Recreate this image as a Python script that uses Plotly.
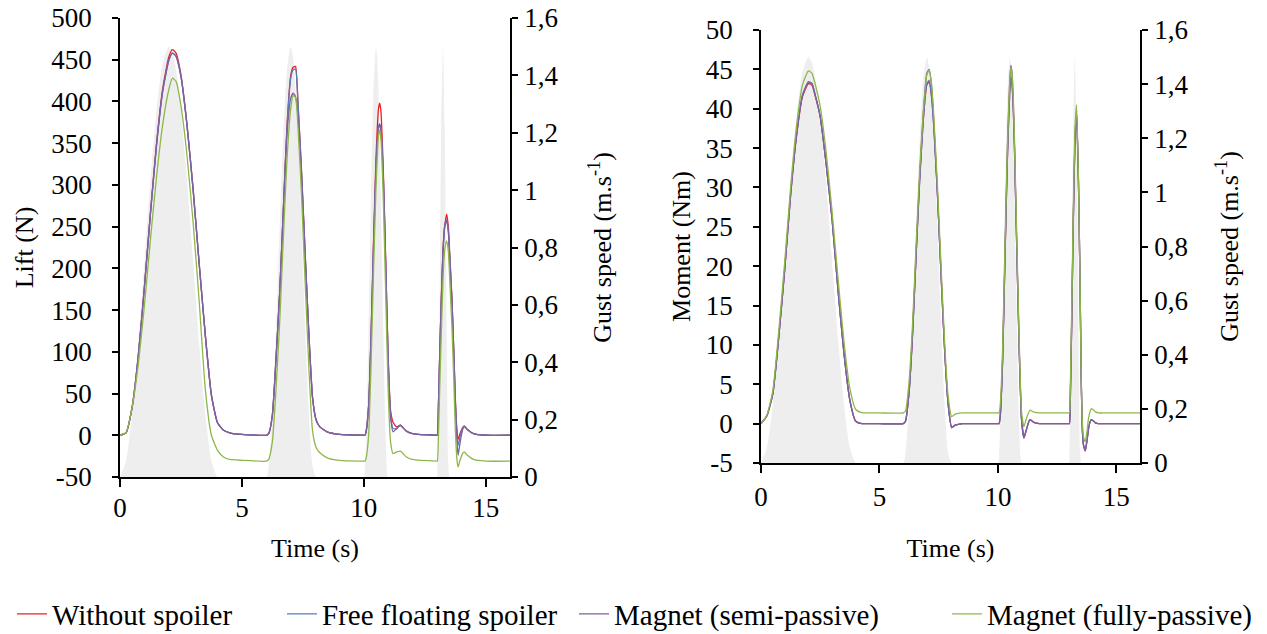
import plotly.graph_objects as go

# ---------------- data ----------------
time = [
    0, 0.25, 0.5, 0.75, 1.0, 1.25, 1.5, 1.75, 2.0, 2.15, 2.3, 2.5, 2.75, 3.0, 3.25, 3.5, 3.75, 4.0, 4.25, 4.5, 5.0, 6.0,
    6.1, 6.25, 6.4, 6.55, 6.7, 6.85, 7.0, 7.1, 7.2, 7.3, 7.45, 7.6, 7.75, 7.9, 8.05, 8.2, 8.5, 9.0, 10.0,
    10.05, 10.1, 10.2, 10.3, 10.4, 10.5, 10.55, 10.6, 10.65, 10.7, 10.8, 10.9, 11.0, 11.1, 11.2, 11.35, 11.5, 11.75, 12.0, 13.0,
    13.02, 13.07, 13.12, 13.18, 13.25, 13.32, 13.4, 13.47, 13.52, 13.57, 13.62, 13.69, 13.76, 13.82, 13.87, 13.95, 14.05, 14.12, 14.25, 14.5, 15.0, 16.0,
]

gust_speed = [
    0, 0.057, 0.22, 0.463, 0.75, 1.037, 1.28, 1.443, 1.5, 1.479, 1.418, 1.28, 1.037, 0.75, 0.463, 0.22, 0.057, 0, 0, 0, 0, 0,
    0.037, 0.22, 0.518, 0.867, 1.191, 1.418, 1.5, 1.463, 1.357, 1.191, 0.867, 0.518, 0.22, 0.037, 0, 0, 0, 0, 0,
    0.037, 0.143, 0.518, 0.982, 1.357, 1.5, 1.463, 1.357, 1.191, 0.982, 0.518, 0.143, 0, 0, 0, 0, 0, 0, 0, 0,
    0.023, 0.272, 0.703, 1.228, 1.5, 1.228, 0.518, 0.053, 0, 0, 0, 0, 0, 0, 0, 0, 0, 0, 0, 0, 0, 0,
]

lift_without = [
    0, 3, 34, 95, 177, 267, 350, 415, 453, 462, 458, 432, 372, 295, 205, 120, 48, 15, 6, 3, 1, 0,
    2, 24, 91, 170, 270, 370, 430, 441, 442, 400, 315, 215, 120, 45, 18, 10, 4, 1, 0,
    0, 5, 35, 120, 230, 330, 365, 390, 398, 390, 320, 210, 95, 30, 16, 10, 12, 5, 2, 0,
    0, 42, 100, 162, 222, 250, 265, 250, 222, 193, 162, 105, 42, 8, -5, 2, 9, 11, 7, 2, 0, 0,
]
lift_free = [
    0, 3, 34, 95, 177, 266, 348, 412, 449, 458, 454, 430, 371, 294, 205, 120, 48, 15, 6, 3, 1, 0,
    2, 24, 91, 170, 270, 368, 427, 438, 439, 398, 314, 215, 120, 45, 18, 10, 4, 1, 0,
    0, 5, 35, 118, 225, 320, 350, 368, 373, 366, 312, 205, 93, 25, 8, 8, 12, 5, 2, 0,
    0, 42, 100, 160, 218, 250, 258, 245, 218, 190, 160, 104, 40, 2, -12, -2, 8, 11, 7, 2, 0, 0,
]
lift_semi = [
    0, 3, 34, 95, 177, 266, 348, 412, 449, 458, 454, 430, 371, 294, 205, 120, 48, 15, 6, 3, 1, 0,
    2, 24, 91, 170, 268, 360, 403, 410, 406, 385, 310, 213, 120, 45, 18, 10, 4, 1, 0,
    0, 5, 35, 118, 225, 320, 350, 368, 373, 366, 312, 205, 92, 22, 4, 8, 12, 5, 2, 0,
    0, 42, 100, 160, 218, 250, 257, 244, 217, 189, 159, 102, 36, -5, -24, -9, 6, 11, 7, 2, 0, 0,
]
lift_fully = [
    0, 3, 34, 85, 155, 235, 310, 372, 414, 428, 424, 395, 335, 255, 160, 55, 0, -18, -26, -29, -30, -31,
    -29, -8, 55, 135, 235, 330, 390, 407, 405, 370, 285, 180, 80, 5, -15, -21, -27, -30, -31,
    -31, -27, 0, 85, 195, 295, 330, 358, 366, 357, 285, 170, 55, -8, -22, -20, -19, -26, -29, -31,
    -31, 5, 60, 120, 185, 222, 233, 220, 192, 160, 128, 70, 5, -28, -38, -30, -22, -20, -24, -29, -31, -31,
]

moment_without = [
    0, 1.0, 3.8, 11.0, 19.5, 29.0, 36.5, 41.5, 43.2, 43.0, 41.5, 39.0, 33.0, 26.0, 17.0, 9.0, 3.0, 0.3, 0, 0, 0, 0,
    0.3, 4.0, 11.5, 21.5, 31.0, 38.5, 43.0, 43.4, 41.5, 37.5, 29.0, 19.0, 9.5, 2.5, -0.5, -0.2, 0, 0, 0,
    0, 1.0, 8.0, 21.0, 33.5, 42.0, 44.0, 43.0, 40.0, 35.0, 22.0, 9.5, 0.5, -1.8, -0.8, 0.5, 0.2, 0, 0, 0,
    0, 5.0, 13.5, 25.0, 35.5, 39.7, 31.0, 17.5, 5.5, -1.0, -2.8, -3.4, -2.2, -0.8, 0, 0.5, 0.3, 0.1, 0, 0, 0, 0,
]
moment_free = [
    0, 1.0, 3.8, 11.0, 19.6, 29.1, 36.7, 41.7, 43.4, 43.2, 41.6, 39.0, 33.0, 26.0, 17.0, 9.0, 3.0, 0.3, 0, 0, 0, 0,
    0.3, 4.0, 11.5, 21.5, 31.0, 38.6, 43.2, 43.6, 41.6, 37.5, 29.0, 19.0, 9.5, 2.5, -0.5, -0.2, 0, 0, 0,
    0, 1.0, 8.0, 21.0, 33.5, 42.2, 44.1, 43.1, 40.0, 35.0, 22.0, 9.5, 0.5, -1.8, -0.8, 0.5, 0.2, 0, 0, 0,
    0, 5.0, 13.5, 25.0, 35.5, 39.7, 31.0, 17.5, 5.5, -1.0, -2.8, -3.3, -2.2, -0.8, 0, 0.5, 0.3, 0.1, 0, 0, 0, 0,
]
moment_semi = [
    0, 1.0, 3.8, 11.0, 19.6, 29.1, 36.7, 41.7, 43.4, 43.2, 41.6, 39.0, 33.0, 26.0, 17.0, 9.0, 3.0, 0.3, 0, 0, 0, 0,
    0.3, 4.0, 11.5, 21.8, 31.5, 39.3, 44.5, 45.0, 43.0, 38.0, 29.2, 19.0, 9.5, 2.5, -0.5, -0.2, 0, 0, 0,
    0, 1.0, 8.2, 21.5, 34.5, 43.5, 45.5, 44.5, 41.0, 35.5, 22.0, 9.5, 0.5, -1.8, -0.8, 0.5, 0.2, 0, 0, 0,
    0, 5.0, 13.5, 25.0, 35.5, 39.7, 31.0, 17.5, 5.5, -1.0, -2.8, -3.5, -2.2, -0.8, 0, 0.5, 0.3, 0.1, 0, 0, 0, 0,
]
moment_fully = [
    0, 1.1, 4.2, 11.8, 20.5, 30.0, 37.8, 43.0, 44.8, 44.5, 43.0, 40.3, 34.5, 27.0, 18.5, 10.5, 4.5, 1.8, 1.4, 1.36, 1.36, 1.36,
    1.6, 5.3, 12.8, 22.8, 32.3, 39.6, 44.3, 44.9, 43.0, 38.8, 30.2, 20.1, 10.5, 3.5, 0.9, 1.2, 1.36, 1.36, 1.36,
    1.36, 2.4, 9.5, 22.5, 35.0, 43.5, 45.3, 44.3, 41.3, 36.2, 23.3, 10.6, 1.5, -0.4, 0.6, 1.7, 1.5, 1.36, 1.36, 1.36,
    1.36, 6.5, 15.0, 26.5, 37.0, 40.5, 31.5, 17.5, 5.5, 0, -1.7, -2.3, -1.0, 0.5, 1.3, 1.9, 1.7, 1.5, 1.36, 1.36, 1.36, 1.36,
]

series_names = ["Without spoiler", "Free floating spoiler", "Magnet (semi-passive)", "Magnet (fully-passive)"]
series_colors = ["#ee1c25", "#4f81bd", "#7f5fa0", "#8cb84a"]
lift_series = [lift_without, lift_free, lift_semi, lift_fully]
moment_series = [moment_without, moment_free, moment_semi, moment_fully]

gust_ticks = [0, 0.2, 0.4, 0.6, 0.8, 1.0, 1.2, 1.4, 1.6]
gust_ticktext = ["0", "0,2", "0,4", "0,6", "0,8", "1", "1,2", "1,4", "1,6"]
lift_ticks = [-50, 0, 50, 100, 150, 200, 250, 300, 350, 400, 450, 500]
lift_ticktext = ["-50", "0", "50", "100", "150", "200", "250", "300", "350", "400", "450", "500"]
moment_ticks = [-5, 0, 5, 10, 15, 20, 25, 30, 35, 40, 45, 50]
moment_ticktext = ["-5", "0", "5", "10", "15", "20", "25", "30", "35", "40", "45", "50"]
time_ticks = [0, 5, 10, 15]
time_ticktext = ["0", "5", "10", "15"]

# ---------------- figure ----------------
W, H = 1267, 634
FONT = "Liberation Serif"
FS_TICK = 27
FS_TITLE = 26
FS_LEG = 29

fig = go.Figure()

GRAY = "#eeeeee"
fig.add_trace(go.Scatter(x=time, y=gust_speed, xaxis="x", yaxis="y", mode="lines",
                         line=dict(width=0, color=GRAY, shape="spline", smoothing=0.6),
                         fill="tozeroy", fillcolor=GRAY, showlegend=False, hoverinfo="skip"))
fig.add_trace(go.Scatter(x=time, y=gust_speed, xaxis="x2", yaxis="y3", mode="lines",
                         line=dict(width=0, color=GRAY, shape="spline", smoothing=0.6),
                         fill="tozeroy", fillcolor=GRAY, showlegend=False, hoverinfo="skip"))

legend_ids = ["legend", "legend2", "legend3", "legend4"]
for i, (name, col) in enumerate(zip(series_names, series_colors)):
    fig.add_trace(go.Scatter(x=time, y=lift_series[i], xaxis="x", yaxis="y2", mode="lines",
                             name=name, line=dict(color=col, width=1.3, shape="spline", smoothing=0.5),
                             legend=legend_ids[i], showlegend=True))
for i, (name, col) in enumerate(zip(series_names, series_colors)):
    fig.add_trace(go.Scatter(x=time, y=moment_series[i], xaxis="x2", yaxis="y4", mode="lines",
                             name=name, line=dict(color=col, width=1.3, shape="spline", smoothing=0.5),
                             showlegend=False))


def px_x(p):
    return p / W


def px_y(p):
    return 1 - p / H


axis_common = dict(showline=True, linecolor="black", linewidth=1.5, ticks="outside",
                   tickcolor="black", tickwidth=1.5, showgrid=False, zeroline=False,
                   automargin=False,
                   tickfont=dict(family=FONT, size=FS_TICK, color="black"))


def title(text):
    return dict(text=text, font=dict(family=FONT, size=FS_TITLE, color="black"))


fig.update_layout(
    template="none",
    width=W, height=H,
    margin=dict(l=0, r=0, t=0, b=0, autoexpand=False),
    plot_bgcolor="white", paper_bgcolor="white",
    font=dict(family=FONT, size=FS_TICK, color="black"),
    xaxis=dict(domain=[px_x(120), px_x(510)], anchor="y", range=[0, 16],
               tickvals=time_ticks, ticktext=time_ticktext, ticklen=8, ticklabelstandoff=-2,
               title=dict(title("Time (s)"), standoff=17), **axis_common),
    yaxis=dict(domain=[px_y(477), px_y(18)], anchor="x", side="right", range=[0, 1.6],
               tickvals=gust_ticks, ticktext=gust_ticktext, ticklen=6, ticklabelstandoff=1,
               title=dict(title("Gust speed (m.s<sup>-1</sup>)"), standoff=35), **axis_common),
    yaxis2=dict(overlaying="y", anchor="x", side="left", range=[-50, 500],
                tickvals=lift_ticks, ticktext=lift_ticktext, ticklen=6, ticklabelstandoff=15,
                title=dict(title("Lift (N)"), standoff=10), **axis_common),
    xaxis2=dict(domain=[px_x(761), px_x(1140)], anchor="y3", range=[0, 16],
                tickvals=time_ticks, ticktext=time_ticktext, ticklen=8, ticklabelstandoff=1,
                title=dict(title("Time (s)"), standoff=28), **axis_common),
    yaxis3=dict(domain=[px_y(463), px_y(30)], anchor="x2", side="right", range=[0, 1.6],
                tickvals=gust_ticks, ticktext=gust_ticktext, ticklen=6, ticklabelstandoff=1,
                title=dict(title("Gust speed (m.s<sup>-1</sup>)"), standoff=32), **axis_common),
    yaxis4=dict(overlaying="y3", anchor="x2", side="left", range=[-5, 50],
                tickvals=moment_ticks, ticktext=moment_ticktext, ticklen=6, ticklabelstandoff=15,
                title=dict(title("Moment (Nm)"), standoff=8), **axis_common),
)

legend_x_px = [12, 282, 574, 947]
for lid, lx in zip(legend_ids, legend_x_px):
    fig.update_layout({lid: dict(x=px_x(lx), y=px_y(614), xanchor="left", yanchor="middle",
                                 orientation="h", bgcolor="rgba(0,0,0,0)", borderwidth=0,
                                 font=dict(family=FONT, size=FS_LEG, color="black"))})

fig.write_html("out.html", config={"displayModeBar": False},
               post_script="document.body.style.margin='0';document.body.style.padding='0';")
